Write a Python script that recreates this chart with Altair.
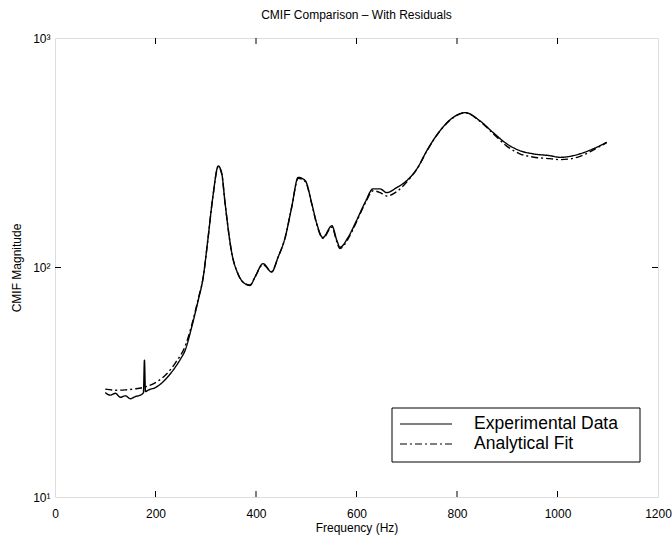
import altair as alt
import pandas as pd

# Experimental data (Hz, CMIF magnitude)
exp_freq = [100, 110, 120, 130, 140, 150, 160, 170, 176, 178, 180, 185, 200, 212, 225, 239, 250, 259, 272,
            285, 295, 304, 314, 325, 332, 338, 352, 364, 378, 388, 398, 414, 431, 444, 458, 471, 484,
            498, 511, 521, 533, 551, 561, 567, 583, 600, 617, 633, 647, 660, 680, 700, 722, 740, 766,
            792, 816, 846, 872, 899, 925, 951, 985, 1005, 1045, 1071, 1098]
exp_mag = [28.5, 27.8, 28.3, 27.2, 27.6, 26.8, 27.4, 27.8, 28.5, 39.5, 28.8, 29.2, 30.0, 31.3, 33.5, 36.7, 40.0, 43.6, 55,
           72, 90.8, 131, 202, 277, 256, 195, 115, 94, 85, 83.5, 90.8, 104, 95.5, 111, 135, 183, 247,
           239, 190, 155, 135, 152, 131, 122.5, 135, 160, 192, 220, 220, 212, 223, 239, 273, 323, 394,
           450, 473, 435, 387, 346, 323, 313, 307, 302, 313, 329, 351]

# Analytical fit
fit_freq = [100, 120, 140, 160, 180, 200, 220, 240, 260, 272, 285, 295, 304, 314, 325, 332, 338, 352, 364,
            378, 388, 398, 414, 431, 444, 458, 471, 484, 498, 511, 521, 533, 551, 561, 567, 583, 600,
            617, 633, 647, 660, 680, 700, 722, 740, 766, 792, 816, 846, 872, 899, 925, 951, 985, 1005,
            1045, 1071, 1098]
fit_mag = [29.5, 29.2, 29.3, 29.6, 30.2, 31.5, 34.0, 38.5, 46.0, 56, 73, 91, 131, 202, 275, 255, 194, 115, 94,
           85, 84, 91, 103, 96, 111, 135, 183, 245, 237, 189, 154, 134, 150, 129, 121, 133, 158,
           190, 216, 212, 205, 214, 236, 272, 322, 393, 449, 472, 433, 383, 338, 313, 303, 298, 295,
           305, 325, 350]

x_ticks = [200, 400, 600, 800, 1000]
y_ticks = [100]

series_names = ["Experimental Data", "Analytical Fit"]

df = pd.concat([
    pd.DataFrame({"freq": exp_freq, "mag": exp_mag, "series": series_names[0]}),
    pd.DataFrame({"freq": fit_freq, "mag": fit_mag, "series": series_names[1]}),
], ignore_index=True)
df["order"] = range(len(df))

W, H = 603, 459
FONT = "Liberation Sans"

xscale = alt.Scale(domain=[0, 1200], nice=False, zero=False)
yscale = alt.Scale(type="log", domain=[10, 1000], nice=False)
dash_scale = alt.Scale(domain=series_names, range=[[1, 0], [7, 3, 2, 3]])

lines = alt.Chart(df).mark_line(color="black", strokeWidth=1.4, interpolate="monotone").encode(
    x=alt.X("freq:Q", scale=xscale,
            axis=alt.Axis(title="Frequency (Hz)", values=[0, 200, 400, 600, 800, 1000, 1200],
                          format="d",
                          grid=False, ticks=False, domain=False, labelPadding=11,
                          labelFontSize=12, titleFontSize=12, titleFontWeight="normal",
                          titlePadding=3, labelFont=FONT, titleFont=FONT, labelColor="black",
                          titleColor="black", labelFlush=False)),
    y=alt.Y("mag:Q", scale=yscale,
            axis=alt.Axis(title="CMIF Magnitude", values=[10, 100, 1000], grid=False, ticks=False,
                          domain=False, labelPadding=5, labelFontSize=12, titleFontSize=12,
                          titleFontWeight="normal", titlePadding=9, labelFont=FONT, titleFont=FONT,
                          labelColor="black", titleColor="black",
                          labelExpr="datum.value == 10 ? '10¹' : datum.value == 100 ? '10²' : '10³'")),
    strokeDash=alt.StrokeDash("series:N", scale=dash_scale, legend=None),
    order="order:Q",
)

xt = pd.DataFrame({"x": x_ticks})
yt = pd.DataFrame({"y": y_ticks})

tick_bottom = alt.Chart(xt).mark_rule(color="black", strokeWidth=1).encode(
    x=alt.X("x:Q", scale=xscale), y=alt.value(H), y2=alt.value(H - 6))
tick_top = alt.Chart(xt).mark_rule(color="black", strokeWidth=1).encode(
    x=alt.X("x:Q", scale=xscale), y=alt.value(0), y2=alt.value(6))
tick_left = alt.Chart(yt).mark_rule(color="black", strokeWidth=1).encode(
    y=alt.Y("y:Q", scale=yscale), x=alt.value(0), x2=alt.value(6))
tick_right = alt.Chart(yt).mark_rule(color="black", strokeWidth=1).encode(
    y=alt.Y("y:Q", scale=yscale), x=alt.value(W), x2=alt.value(W - 6))

# Legend (drawn as a box with sample lines and labels)
leg_df = pd.DataFrame({"series": series_names, "row": [0, 1]})
leg_base = alt.Chart(leg_df).transform_calculate(ypix="386 + 20 * datum.row")

leg_box = alt.Chart(pd.DataFrame({"b": [0]})).mark_rect(
    fill="white", stroke="black", strokeWidth=1).encode(
    x=alt.value(337), x2=alt.value(585), y=alt.value(370), y2=alt.value(424))
leg_lines = leg_base.mark_rule(color="black", strokeWidth=1.2).encode(
    x=alt.value(345), x2=alt.value(397), y=alt.Y("ypix:Q", scale=None),
    strokeDash=alt.StrokeDash("series:N", scale=dash_scale, legend=None))
leg_text = leg_base.mark_text(align="left", baseline="middle", font=FONT, fontSize=17.5,
                              color="black").encode(
    x=alt.value(419), y=alt.Y("ypix:Q", scale=None), text="series:N")

chart = alt.layer(lines, tick_bottom, tick_top, tick_left, tick_right,
                  leg_box, leg_lines, leg_text).properties(
    width=W, height=H,
    title=alt.TitleParams("CMIF Comparison – With Residuals", font=FONT, fontSize=12,
                          fontWeight="normal", color="black", offset=10, anchor="middle"),
    autosize="none",
    padding={"left": 55, "top": 38, "right": 14, "bottom": 42},
).configure_view(
    stroke="black", strokeWidth=1
).configure(background="white")

chart.save("out.html", embed_options={"renderer": "svg", "actions": False})
